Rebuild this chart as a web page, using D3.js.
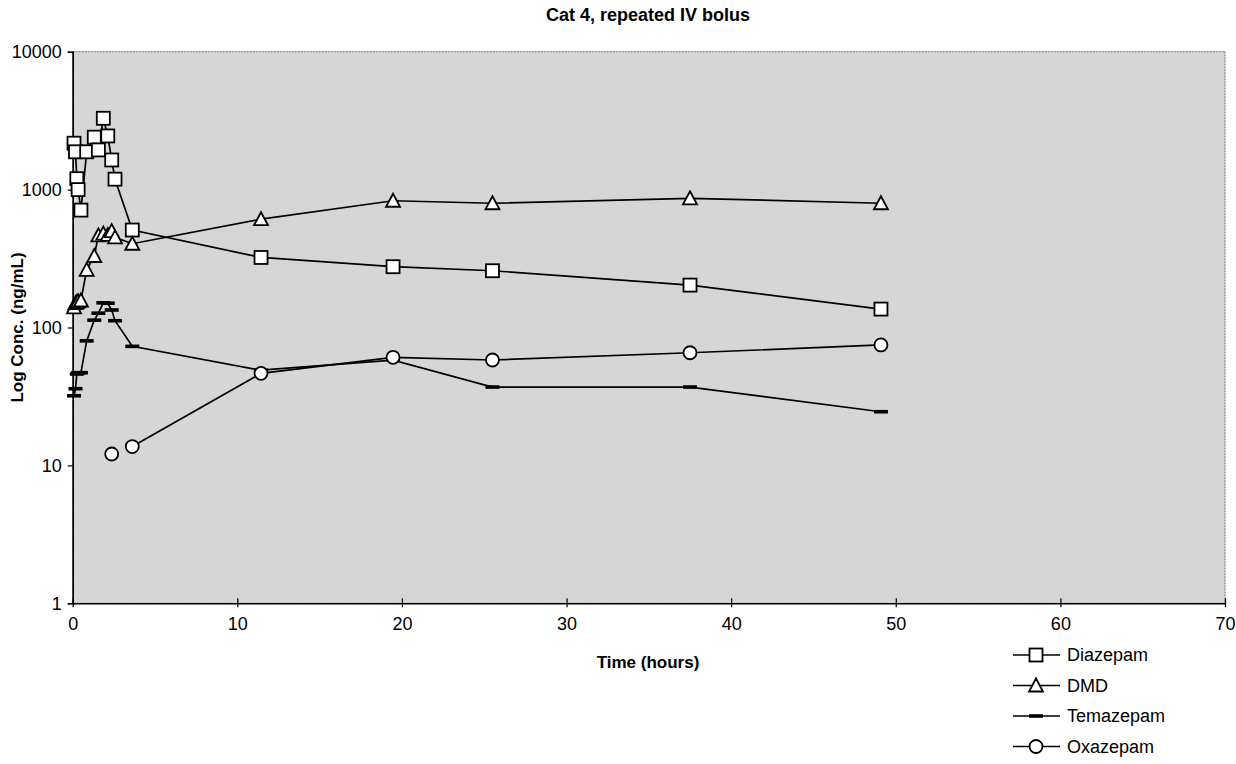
<!DOCTYPE html>
<html>
<head>
<meta charset="utf-8">
<script src="https://cdn.jsdelivr.net/npm/d3@7"></script>
<style>
  html, body { margin: 0; padding: 0; background: #fff; }
  svg { display: block; font-family: Arial, 'Liberation Sans', sans-serif; }
</style>
</head>
<body>
<svg id="chart" width="1236" height="764"></svg>
<script>
// sampling times (hours), shared by all four analytes
const times = [0.08, 0.17, 0.25, 0.33, 0.5, 0.85, 1.31, 1.56, 1.86, 2.13, 2.37, 2.57, 3.62, 11.44, 19.46, 25.5, 37.5, 49.1];

// concentrations (ng/mL), null = not measured
const diazepam  = [2170, 1880, 1200, 1000, 710, 1880, 2400, 1940, 3290, 2450, 1640, 1190, 509, 322, 276, 258, 203, 136];
const dmd       = [140, 150, 153, 155, 157, 262, 330, 465, 480, 470, 500, 450, 405, 610, 830, 796, 865, 796];
const temazepam = [32, 36, 46, 47, 47, 80, 113, 127, 151, 150, 134, 112, 73, 49, 58, 37, 37, 24.5];
const oxazepam  = [null, null, null, null, null, null, null, null, null, null, 12.1, null, 13.7, 46.5, 60.8, 58.1, 65.6, 74.7];

const xTicks = [0, 10, 20, 30, 40, 50, 60, 70];
const yTicks = [1, 10, 100, 1000, 10000];

const seriesNames = ['Diazepam', 'DMD', 'Temazepam', 'Oxazepam'];
const seriesValues = [diazepam, dmd, temazepam, oxazepam];
const seriesMarkers = ['square', 'triangle', 'dash', 'circle'];

const svg = d3.select('#chart');

const x = d3.scaleLinear().domain([0, 70]).range([72.7, 1225]);
const y = d3.scaleLog().domain([1, 10000]).range([603.3, 51.7]);

// plot area background (stippled grey in the original)
svg.append('rect')
  .attr('x', x(0)).attr('y', y(10000))
  .attr('width', x(70) - x(0)).attr('height', y(1) - y(10000))
  .attr('fill', '#d6d6d6')
  .attr('stroke', '#6e6e6e')
  .attr('stroke-width', 1)
  .attr('stroke-dasharray', '2,1');

// Y axis
svg.append('g')
  .attr('transform', `translate(${x(0)},0)`)
  .call(d3.axisLeft(y).tickValues(yTicks).tickFormat(d3.format('d')).tickSize(5).tickPadding(6))
  .call(sel => sel.select('.domain').attr('stroke', '#000').attr('stroke-width', 1.6))
  .call(sel => sel.selectAll('.tick line').attr('stroke', '#000').attr('stroke-width', 1.2))
  .call(sel => sel.selectAll('.tick text').attr('fill', '#000').attr('font-size', '18px'));

// X axis
svg.append('g')
  .attr('transform', `translate(0,${y(1)})`)
  .call(d3.axisBottom(x).tickValues(xTicks).tickSizeInner(-5).tickSizeOuter(0).tickPadding(14))
  .call(sel => sel.select('.domain').attr('stroke', '#000').attr('stroke-width', 1.6))
  .call(sel => sel.selectAll('.tick line').attr('stroke', '#000').attr('stroke-width', 1.2).attr('y2', 4).attr('y1', -5))
  .call(sel => sel.selectAll('.tick text').attr('fill', '#000').attr('font-size', '18px'));

// Titles
svg.append('text')
  .attr('x', 648).attr('y', 21)
  .attr('text-anchor', 'middle')
  .attr('font-size', '18px').attr('font-weight', 'bold')
  .text('Cat 4, repeated IV bolus');

svg.append('text')
  .attr('x', 648).attr('y', 668)
  .attr('text-anchor', 'middle')
  .attr('font-size', '17px').attr('font-weight', 'bold')
  .text('Time (hours)');

svg.append('text')
  .attr('transform', `translate(23,${(y(1) + y(10000)) / 2}) rotate(-90)`)
  .attr('text-anchor', 'middle')
  .attr('font-size', '17px').attr('font-weight', 'bold')
  .text('Log Conc. (ng/mL)');

function drawMarker(g, type) {
  if (type === 'square') {
    g.append('rect').attr('x', -6.5).attr('y', -6.5).attr('width', 13).attr('height', 13)
      .attr('fill', '#fff').attr('stroke', '#000').attr('stroke-width', 1.8);
  } else if (type === 'triangle') {
    g.append('path').attr('d', 'M0,-7L7,6L-7,6Z')
      .attr('fill', '#fff').attr('stroke', '#000').attr('stroke-width', 1.8);
  } else if (type === 'circle') {
    g.append('circle').attr('r', 6.5)
      .attr('fill', '#fff').attr('stroke', '#000').attr('stroke-width', 1.8);
  } else {
    g.append('rect').attr('x', -7).attr('y', -1.8).attr('width', 14).attr('height', 3.6)
      .attr('fill', '#000');
  }
}

const line = d3.line()
  .defined(d => d[1] != null)
  .x(d => x(d[0]))
  .y(d => y(d[1]));

const plot = svg.append('g');

seriesValues.forEach((vals, i) => {
  const pts = times.map((t, j) => [t, vals[j]]);
  plot.append('path')
    .datum(pts)
    .attr('fill', 'none')
    .attr('stroke', '#000')
    .attr('stroke-width', 1.7)
    .attr('d', line);
});

seriesValues.forEach((vals, i) => {
  times.forEach((t, j) => {
    if (vals[j] == null) return;
    const g = plot.append('g').attr('transform', `translate(${x(t)},${y(vals[j])})`);
    drawMarker(g, seriesMarkers[i]);
  });
});

// Legend
const legend = svg.append('g').attr('transform', 'translate(1013,655)');
seriesNames.forEach((name, i) => {
  const row = legend.append('g').attr('transform', `translate(0,${i * 30.5})`);
  row.append('line').attr('x1', 0).attr('x2', 47).attr('y1', 0).attr('y2', 0)
    .attr('stroke', '#000').attr('stroke-width', 1.3);
  drawMarker(row.append('g').attr('transform', 'translate(23,0)'), seriesMarkers[i]);
  row.append('text').attr('x', 54).attr('y', 0).attr('dy', '0.35em')
    .attr('font-size', '18px').text(name);
});
</script>
</body>
</html>
